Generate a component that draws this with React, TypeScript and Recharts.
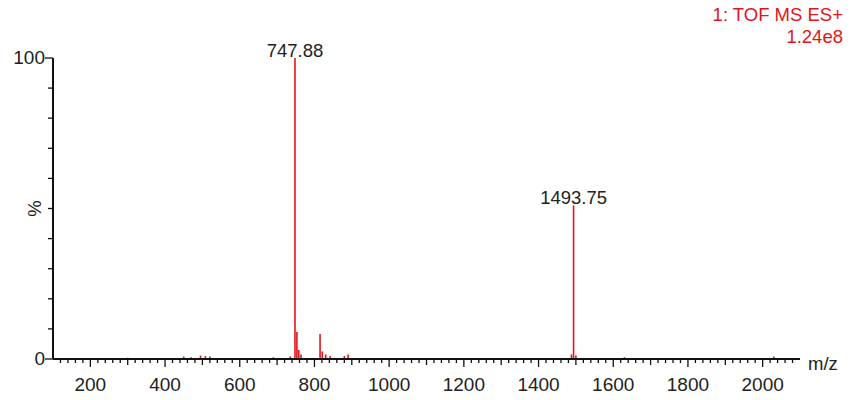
import React from 'react'
import { ComposedChart, Line, XAxis, YAxis, Label } from 'recharts'

// stick spectrum: m/z and relative intensity (%)
const peakMz = [
  300, 450, 470, 495, 508, 520, 690, 735, 747.88, 753, 758, 764, 815, 821, 830, 842,
  880, 890, 1488, 1493.75, 1500, 1630, 2030
]
const peakIntensity = [
  0.4, 0.8, 0.6, 1.2, 1.0, 0.8, 0.6, 0.8, 100, 9, 3, 1.5, 8.3, 2.5, 1.5, 1.0,
  1.0, 1.5, 1.5, 51, 1.2, 0.6, 0.8
]
const labelledPeaks = [747.88, 1493.75]

const xDomain = [100, 2100]
const xTicks = Array.from({ length: 100 }, (_, i) => 120 + i * 20).filter((v) => v < 2100)
const xLabelTicks = [200, 400, 600, 800, 1000, 1200, 1400, 1600, 1800, 2000]
const yTicks = [0, 10, 20, 30, 40, 50, 60, 70, 80, 90, 100]
const yLabelTicks = [0, 100]

const RED = '#e3141a'
const FONT = 'Arial, "Liberation Sans", sans-serif'

const data: { mz: number; v: number }[] = [{ mz: xDomain[0], v: 0 }]
peakMz.forEach((m, i) => {
  data.push({ mz: m, v: 0 }, { mz: m, v: peakIntensity[i] }, { mz: m, v: 0 })
})
data.push({ mz: xDomain[1], v: 0 })

const XTick = (props: any) => {
  const { x, y, payload } = props
  const v = payload.value
  const major = xLabelTicks.includes(v)
  const len = major ? 8 : v % 100 === 0 ? 6 : 4
  return (
    <g>
      <line x1={x} x2={x} y1={y - 8} y2={y - 8 + len} stroke="#111" strokeWidth={1.3} />
      {major && (
        <text x={x} y={y + 24} textAnchor="middle" fontSize={19} fill="#222" fontFamily={FONT}>
          {v}
        </text>
      )}
    </g>
  )
}

const YTick = (props: any) => {
  const { x, y, payload } = props
  const v = payload.value
  const major = yLabelTicks.includes(v)
  const len = major ? 8 : 5
  return (
    <g>
      <line x1={x + 8 - len} x2={x + 8} y1={y} y2={y} stroke="#111" strokeWidth={1.3} />
      {major && (
        <text x={x} y={y + 6} textAnchor="end" fontSize={19} fill="#222" fontFamily={FONT}>
          {v}
        </text>
      )}
    </g>
  )
}

const PeakLabel = (props: any) => {
  const { x, y, index } = props
  const p = data[index]
  if (!p || p.v === 0 || !labelledPeaks.includes(p.mz)) return null
  return (
    <text x={x} y={y - 1} textAnchor="middle" fontSize={18.5} fill="#222" fontFamily={FONT}>
      {p.mz.toFixed(2)}
    </text>
  )
}

export default function App() {
  return (
    <div style={{ width: 850, height: 400, position: 'relative', background: '#fff' }}>
      <style>{'body{margin:0}'}</style>
      <div
        style={{
          position: 'absolute',
          right: 7,
          top: 4,
          textAlign: 'right',
          color: RED,
          fontFamily: FONT,
          fontSize: 18.5,
          lineHeight: '22px'
        }}
      >
        <div>1: TOF MS ES+</div>
        <div>1.24e8</div>
      </div>
      <ComposedChart
        width={850}
        height={400}
        data={data}
        margin={{ top: 58, right: 50, bottom: 0, left: 0 }}
      >
        <XAxis
          dataKey="mz"
          type="number"
          domain={xDomain}
          ticks={xTicks}
          interval={0}
          tick={<XTick />}
          tickLine={false}
          axisLine={{ stroke: '#111', strokeWidth: 2 }}
          height={41}
          allowDataOverflow
        >
          <Label
            value="m/z"
            position="right"
            offset={8}
            dy={-16}
            style={{ fontSize: 18.5, fill: '#222', fontFamily: FONT }}
          />
        </XAxis>
        <YAxis
          type="number"
          domain={[0, 100]}
          ticks={yTicks}
          interval={0}
          tick={<YTick />}
          tickLine={false}
          axisLine={{ stroke: '#111', strokeWidth: 2 }}
          width={53}
        >
          <Label
            value="%"
            angle={-90}
            position="insideLeft"
            offset={34}
            style={{ fontSize: 18.5, fill: '#222', fontFamily: FONT, textAnchor: 'middle' }}
          />
        </YAxis>
        <Line
          dataKey="v"
          type="linear"
          stroke={RED}
          strokeWidth={1.6}
          dot={false}
          activeDot={false}
          isAnimationActive={false}
          label={<PeakLabel />}
        />
      </ComposedChart>
    </div>
  )
}
